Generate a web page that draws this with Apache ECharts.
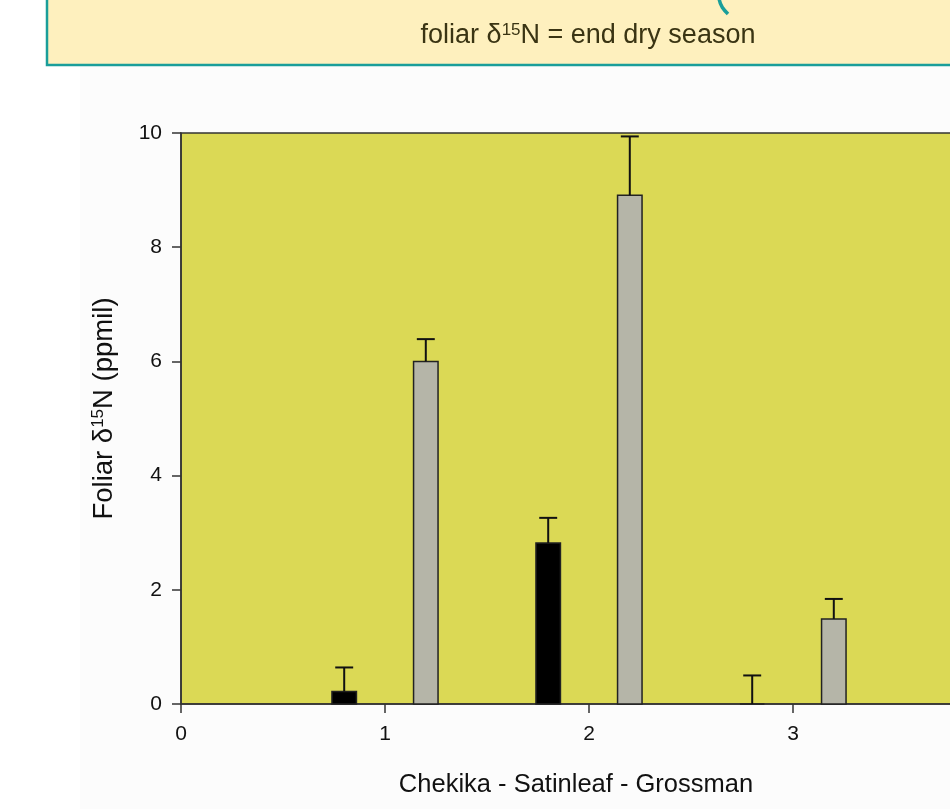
<!DOCTYPE html>
<html><head><meta charset="utf-8">
<script src="https://cdn.jsdelivr.net/npm/echarts@6/dist/echarts.min.js"></script>
<style>html,body{margin:0;padding:0;background:#fff}#c{width:950px;height:809px}</style>
</head><body><div id="c"></div>
<script>
// Site positions (x) and values
const wetX = [0.8, 1.8, 2.8];
const wetVals = [0.22, 2.82, 0.0];
const wetErr = [0.42, 0.44, 0.50];
const dryX = [1.2, 2.2, 3.2];
const dryVals = [6.0, 8.91, 1.49];
const dryErr = [0.39, 1.03, 0.35];
const xTicks = [0, 1, 2, 3, 4];
const yTicks = [0, 2, 4, 6, 8, 10];

const chart = echarts.init(document.getElementById('c'));
const barW = 0.12;
const FONT = 'Liberation Sans, Arial, sans-serif';

function barSeries(xs, vals, color) {
  return {
    type: 'custom',
    data: xs.map((x, i) => [x, vals[i]]),
    renderItem: (params, api) => {
      const x = api.value(0), y = api.value(1);
      const p1 = api.coord([x - barW / 2, y]);
      const p2 = api.coord([x + barW / 2, 0]);
      return {type: 'rect', shape: {x: p1[0], y: p1[1], width: p2[0] - p1[0], height: p2[1] - p1[1]},
        style: {fill: color, stroke: '#222', lineWidth: 1.5}};
    },
    z: 3
  };
}
function errSeries(xs, vals, errs) {
  return {
    type: 'custom',
    data: xs.map((x, i) => [x, vals[i], vals[i] + errs[i]]),
    renderItem: (params, api) => {
      const x = api.value(0);
      const b = api.coord([x, api.value(1)]);
      const t = api.coord([x, api.value(2)]);
      const hw = api.size([0.088, 0])[0] / 2;
      return {type: 'group', children: [
        {type: 'line', shape: {x1: b[0], y1: b[1], x2: t[0], y2: t[1]}, style: {stroke: '#111', lineWidth: 2}},
        {type: 'line', shape: {x1: t[0] - hw, y1: t[1], x2: t[0] + hw, y2: t[1]}, style: {stroke: '#111', lineWidth: 2}}
      ]};
    },
    z: 4
  };
}

chart.setOption({
  animation: false,
  backgroundColor: '#ffffff',
  grid: {left: 181, top: 133, width: 816, height: 571, outerBoundsMode: 'none', containLabel: false,
    show: true, backgroundColor: '#DBD955', borderColor: '#333', borderWidth: 1.5},
  xAxis: {
    type: 'value', min: 0, max: 4, interval: 1,
    name: 'Chekika - Satinleaf - Grossman', nameLocation: 'middle', nameGap: 68,
    nameTextStyle: {fontFamily: FONT, fontSize: 25.5, color: '#111', padding: [0, 26, 0, 0]},
    axisLine: {show: true, onZero: false, lineStyle: {color: '#333', width: 1.5}},
    axisTick: {show: true, length: 9, lineStyle: {color: '#333', width: 1.5}},
    axisLabel: {fontFamily: FONT, fontSize: 21, color: '#111', margin: 20, formatter: v => xTicks.includes(v) ? String(v) : ''},
    splitLine: {show: false}
  },
  yAxis: {
    type: 'value', min: 0, max: 10, interval: 2,
    name: '{t|Foliar δ}{s|15}{t|N (ppmil)}', nameLocation: 'middle', nameGap: 62, nameRotate: 90,
    nameTextStyle: {padding: [0, 0, 0, 20], rich: {
      t: {fontFamily: FONT, fontSize: 27.5, color: '#111'},
      s: {fontFamily: FONT, fontSize: 17, color: '#111', verticalAlign: 'top', padding: [0, 0, 12, 0]}
    }},
    axisLine: {show: true, lineStyle: {color: '#333', width: 1.5}},
    axisTick: {show: true, length: 9, lineStyle: {color: '#333', width: 1.5}},
    axisLabel: {fontFamily: FONT, fontSize: 21, color: '#111', margin: 19, formatter: v => yTicks.includes(v) ? String(v) : ''},
    splitLine: {show: false}
  },
  graphic: [
    {type: 'rect', z: -10, silent: true, shape: {x: 80, y: 66, width: 870, height: 743}, style: {fill: '#fcfcfc'}},
    {type: 'rect', shape: {x: 47, y: -5, width: 920, height: 70}, style: {fill: '#FEF0BE', stroke: '#1A9E9A', lineWidth: 2.5}},
    {type: 'bezierCurve', shape: {x1: 719, y1: -2, x2: 728, y2: 14, cpx1: 720, cpy1: 6, cpx2: 724, cpy2: 10}, style: {stroke: '#1A9E9A', lineWidth: 3.5, fill: null}},
    {type: 'text', x: 588, y: 36, style: {
      text: '{t|foliar δ}{s|15}{t|N = end dry season}', align: 'center', verticalAlign: 'middle',
      rich: {
        t: {fontFamily: FONT, fontSize: 27, fill: '#3a3413'},
        s: {fontFamily: FONT, fontSize: 17, fill: '#3a3413', verticalAlign: 'top', padding: [0, 0, 12, 0]}
      }}}
  ],
  series: [
    barSeries(wetX, wetVals, '#000000'),
    barSeries(dryX, dryVals, '#B5B5A8'),
    errSeries(wetX, wetVals, wetErr),
    errSeries(dryX, dryVals, dryErr)
  ]
});
</script></body></html>
